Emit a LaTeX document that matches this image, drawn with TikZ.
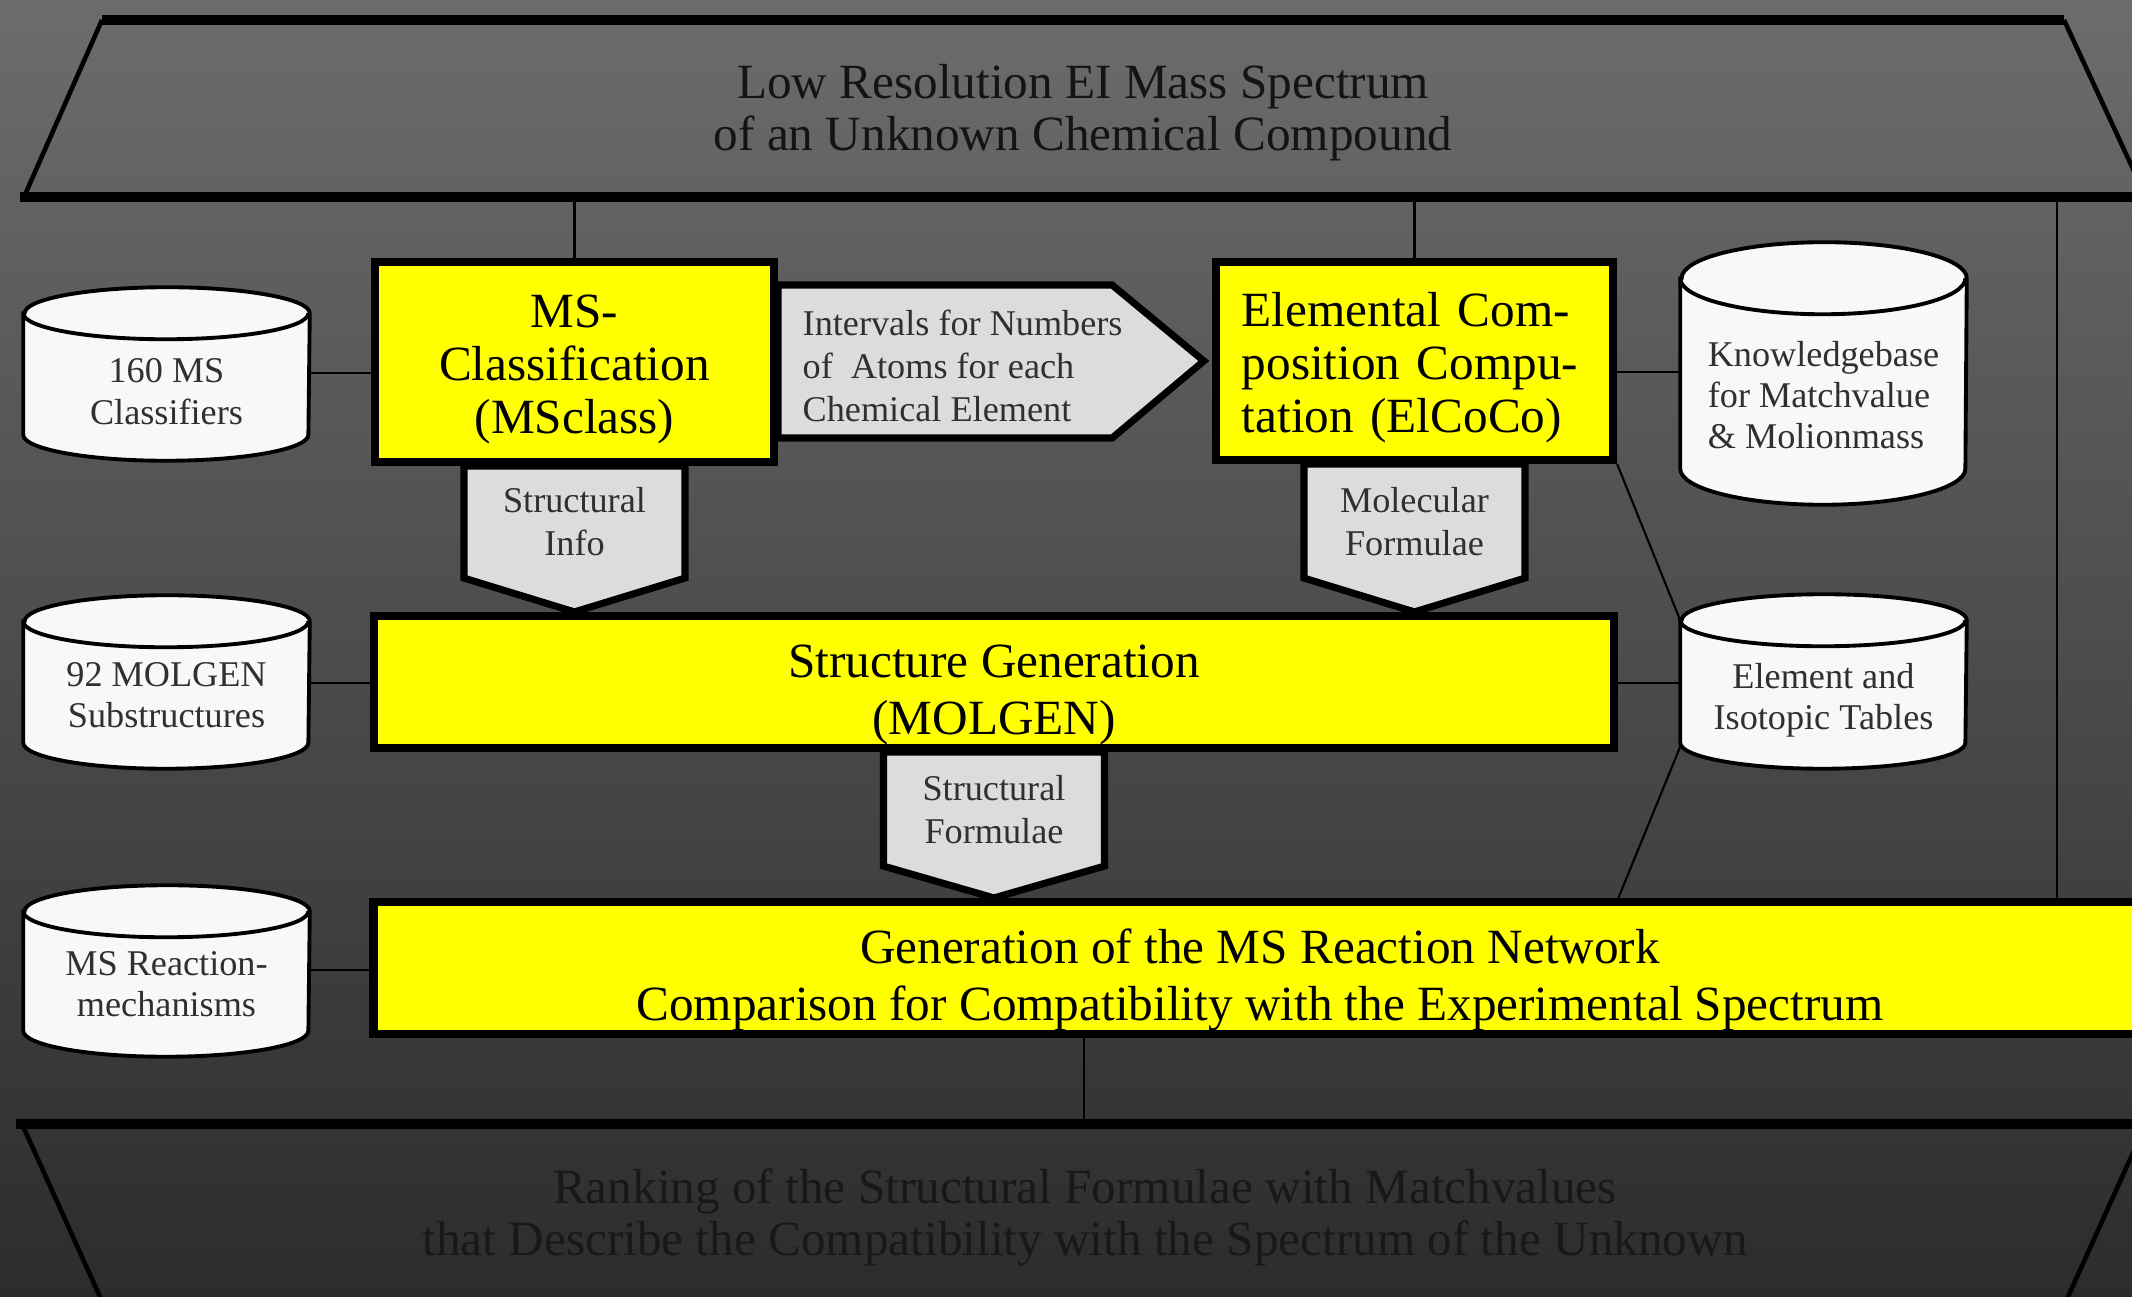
\documentclass[tikz,border=0pt]{standalone}
\usepackage{fontspec}
\setmainfont{Liberation Serif}
\usetikzlibrary{calc}
\pgfdeclarelayer{back}
\pgfdeclarelayer{bg}
\pgfsetlayers{back,bg,main}
\definecolor{bgtop}{HTML}{6C6C6C}
\definecolor{bgmid}{HTML}{464646}
\definecolor{bgbot}{HTML}{2C2C2C}
\definecolor{yboxfill}{HTML}{FFFF00}
\definecolor{arrowfill}{HTML}{DCDCDC}
\definecolor{cylfill}{HTML}{F8F8F8}
\definecolor{lbltext}{HTML}{303030}
\definecolor{titletext}{HTML}{141414}
\definecolor{outtext}{HTML}{181818}
\newcommand{\bigf}{\fontsize{14}{15}\selectfont}
\newcommand{\bigfb}{\fontsize{14}{16.2}\selectfont}
\newcommand{\bigt}{\fontsize{14}{14.8}\selectfont}
\newcommand{\smallf}{\fontsize{10.3}{12.2}\selectfont}
\newcommand{\cylf}{\fontsize{10.3}{11.8}\selectfont}
\newcommand{\lift}[1]{\rule{0pt}{#1}}
\newcommand{\drawcyl}[2]{%
  \draw[cylline] (#1.north west) -- ([yshift=#2]#1.south west)
    arc[start angle=180,end angle=360,x radius=1.425cm,y radius=#2]
    -- (#1.north east)
    arc[start angle=0,end angle=180,x radius=1.425cm,y radius=#2] -- cycle;
  \draw[cylline,fill=none] (#1.north west)
    arc[start angle=180,end angle=360,x radius=1.425cm,y radius=#2];}
\begin{document}
\begin{tikzpicture}[x=0.01cm,y=-0.01cm,
  ybox/.style={draw=black, line width=2.3pt, fill=yboxfill, inner sep=0pt, font=\bigf, text=black},
  conn/.style={draw=black, line width=0.6pt},
  garrow/.style={draw=black, line width=2pt, fill=arrowfill, line join=miter},
  cylline/.style={draw=black, line width=1.1pt, fill=cylfill},
  lbl/.style={inner sep=0pt, font=\smallf, text=lbltext, align=center},
  cylnode/.style={minimum width=2.85cm, inner sep=0pt, font=\cylf, text=lbltext, align=center},
  edgethick/.style={draw=black, line width=2.6pt},
  edgethin/.style={draw=black, line width=1.3pt},
]
\useasboundingbox (0,0) rectangle (2132,1297);
\begin{pgfonlayer}{back}
  \shade[top color=bgtop, middle color=bgmid, bottom color=bgbot] (0,0) rectangle (2132,1297);
\end{pgfonlayer}

% input / output
\node[minimum width=19.62cm, minimum height=1.77cm, inner sep=0pt, font=\bigt, text=titletext, align=center] (input) at (1083,108.5)
  {\lift{12pt}Low Resolution EI Mass Spectrum\\of an Unknown Chemical Compound};
\node[minimum width=19.6cm, minimum height=1.87cm, inner sep=0pt, font=\bigt, text=outtext, align=center] (output) at (1085,1217.5)
  {Ranking of the Structural Formulae with Matchvalues\\that Describe the Compatibility with the Spectrum of the Unknown};

% yellow boxes
\node[ybox, minimum width=3.99cm, minimum height=2cm, align=center] (msclass) at (574.5,362) {\lift{13.4pt}MS-\\Classification\\(MSclass)};
\node[ybox, minimum width=3.97cm, minimum height=1.98cm, align=left, text width=3.45cm] (elcoco) at (1414.5,361) {\lift{13.4pt}Elemental Com-\\position Compu-\\tation (ElCoCo)};
\node[ybox, minimum width=12.4cm, minimum height=1.32cm, align=center, font=\bigfb] (sg) at (994,682) {\lift{16.5pt}Structure Generation\\(MOLGEN)};
\node[ybox, minimum width=17.72cm, minimum height=1.32cm, align=center, font=\bigfb] (gen) at (1260,968) {\lift{16.5pt}Generation of the MS Reaction Network\\Comparison for Compatibility with the Experimental Spectrum};

% arrow labels
\node[lbl, anchor=west, align=left] (intv) at (802,366) {Intervals for Numbers\\of~~Atoms for each\\Chemical Element};
\node[lbl] (sinfo) at (574.5,522) {Structural\\Info};
\node[lbl] (molf) at (1414.5,522) {Molecular\\Formulae};
\node[lbl] (sform) at (994,810) {Structural\\Formulae};

% cylinders
\node[cylnode, minimum height=1.46cm] (c160) at (166.5,387) {\lift{9.6pt}160 MS\\Classifiers};
\node[cylnode, minimum height=1.46cm] (c92) at (166.5,695) {92 MOLGEN\\Substructures};
\node[cylnode, minimum height=1.44cm] (cms) at (166.5,984) {MS Reaction-\\mechanisms};
\node[cylnode, minimum height=2.25cm, align=left] (ckb) at (1823.5,391.5) {\lift{9.2pt}Knowledgebase\\for Matchvalue\\\& Molionmass};
\node[cylnode, minimum height=1.47cm] (cel) at (1823.5,694.5) {\lift{10.5pt}Element and\\Isotopic Tables};

\begin{pgfonlayer}{bg}
  % trapezoids
  \draw[edgethin] (102,20) -- (24,197);
  \draw[edgethin] (2064,20) -- (2146,197);
  \draw[edgethick] (102,20) -- (2064,20);
  \draw[edgethick] (20,197) -- (2150,197);
  \draw[edgethin] (22,1124) -- (106,1310);
  \draw[edgethin] (2146,1124) -- (2062,1310);
  \draw[edgethick] (16,1124) -- (2150,1124);

  % cylinders
  \drawcyl{c160}{0.26cm}
  \drawcyl{c92}{0.26cm}
  \drawcyl{cms}{0.26cm}
  \drawcyl{ckb}{0.36cm}
  \drawcyl{cel}{0.26cm}

  % block arrows
  \draw[garrow] ($(msclass.east)+(0,-77)$) -- ($(msclass.east)+(334,-77)$) -- ($(elcoco.west)+(-8,0)$)
     -- ($(msclass.east)+(334,76)$) -- ($(msclass.east)+(0,76)$) -- cycle;
  \draw[garrow] ($(msclass.south)+(-110.5,0)$) -- ($(msclass.south)+(110.5,0)$) -- ($(msclass.south)+(110.5,112)$)
     -- (msclass.south |- sg.north) -- ($(msclass.south)+(-110.5,112)$) -- cycle;
  \draw[garrow] ($(elcoco.south)+(-110.5,0)$) -- ($(elcoco.south)+(110.5,0)$) -- ($(elcoco.south)+(110.5,114)$)
     -- (elcoco.south |- sg.north) -- ($(elcoco.south)+(-110.5,114)$) -- cycle;
  \draw[garrow] ($(sg.south)+(-110.5,0)$) -- ($(sg.south)+(110.5,0)$) -- ($(sg.south)+(110.5,114)$)
     -- (sg.south |- gen.north) -- ($(sg.south)+(-110.5,114)$) -- cycle;

  % connectors
  \draw[conn] (msclass.north |- input.south) -- (msclass.north);
  \draw[conn] (elcoco.north |- input.south) -- (elcoco.north);
  \draw[conn] (input.south -| 2057,0) -- (gen.north -| 2057,0);
  \draw[conn] (c160.east |- 0,373) -- (msclass.west |- 0,373);
  \draw[conn] (c92.east |- 0,683) -- (sg.west |- 0,683);
  \draw[conn] (cms.east |- 0,970) -- (gen.west |- 0,970);
  \draw[conn] (elcoco.east |- 0,372) -- (ckb.west |- 0,372);
  \draw[conn] (sg.east |- 0,683) -- (cel.west |- 0,683);
  \draw[conn] (elcoco.south east) -- (cel.north west);
  \draw[conn] ([yshift=0.22cm]cel.south west) -- (gen.north -| sg.east);
  \draw[conn] (gen.south -| 1084,0) -- (output.north -| 1084,0);
\end{pgfonlayer}
\end{tikzpicture}
\end{document}
